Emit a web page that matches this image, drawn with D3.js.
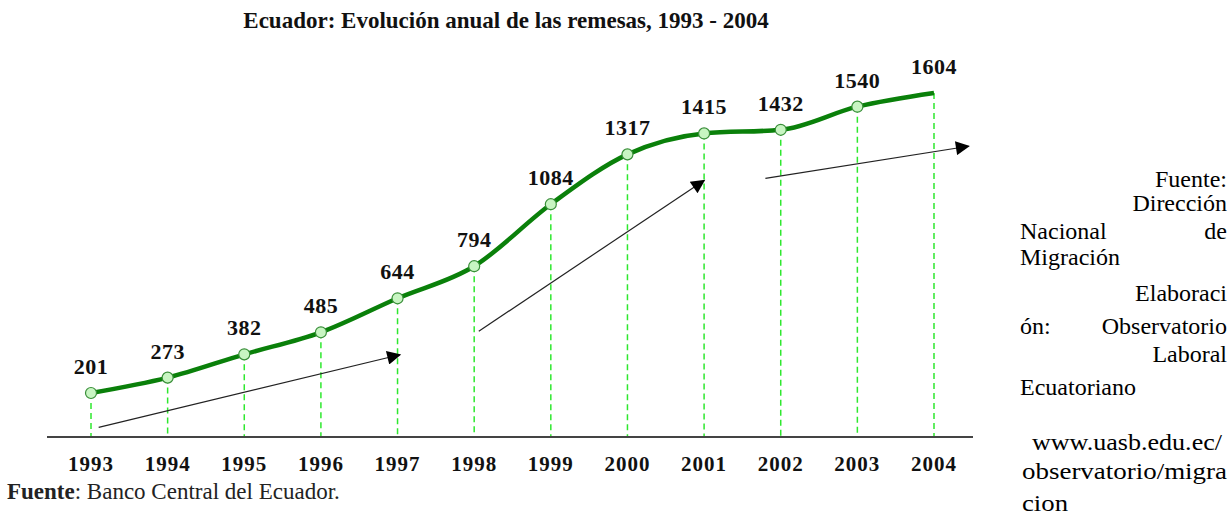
<!DOCTYPE html>
<html>
<head>
<meta charset="utf-8">
<script src="https://cdn.jsdelivr.net/npm/d3@7"></script>
<style>
  body { margin: 0; background: #fff; }
  svg { display: block; }
  text { font-family: "Liberation Serif", "Times New Roman", serif; }
</style>
</head>
<body>
<div class="graph"></div>
<script>
var width = 1230,
    height = 516;

// data
var years = [1993, 1994, 1995, 1996, 1997, 1998, 1999, 2000, 2001, 2002, 2003, 2004];
var remesas = [201, 273, 382, 485, 644, 794, 1084, 1317, 1415, 1432, 1540, 1604];

// trend arrows: [yearFrom, valueFrom, yearTo, valueTo]
var arrows = [
  [1993.1, 40, 1997.03, 380],
  [1998.06, 490, 2001.0, 1195],
  [2001.8, 1205, 2004.45, 1355]
];

var notaLines = [
  { words: ["Fuente:"], align: "end", y: 187 },
  { words: ["Dirección"], align: "end", y: 211 },
  { words: ["Nacional", "de"], align: "justify", y: 239 },
  { words: ["Migración"], align: "start", y: 265 },
  { words: ["Elaboraci"], align: "end", y: 301 },
  { words: ["ón:", "Observatorio"], align: "justify", y: 334 },
  { words: ["Laboral"], align: "end", y: 362 },
  { words: ["Ecuatoriano"], align: "start", y: 395 },
  { words: ["www.uasb.edu.ec/"], align: "start", y: 450, dx: 12, len: 190 },
  { words: ["observatorio/migra"], align: "start", y: 479, dx: 2, len: 205 },
  { words: ["cion"], align: "start", y: 511, dx: 2, len: 46 }
];

var svg = d3.select(".graph").append("svg")
    .attr("width", width)
    .attr("height", height)
    .style("font-family", "'Liberation Serif', 'Times New Roman', serif");

var x = d3.scaleLinear()
    .domain([1993, 2004])
    .range([91, 934]);

var y = d3.scaleLinear()
    .domain([0, 1604])
    .range([436, 93]);

// title
svg.append("text")
    .attr("x", 506)
    .attr("y", 28)
    .attr("text-anchor", "middle")
    .style("font-weight", "bold")
    .style("font-size", "23px")
    .style("fill", "#111")
    .text("Ecuador: Evolución anual de las remesas, 1993 - 2004");

// dashed verticals
svg.selectAll(".drop")
    .data(years)
    .enter().append("line")
      .attr("class", "drop")
      .attr("x1", function(d) { return x(d); })
      .attr("x2", function(d) { return x(d); })
      .attr("y1", function(d, i) { return y(remesas[i]); })
      .attr("y2", y(0))
      .attr("stroke", "#2ee82e")
      .attr("stroke-width", 1.5)
      .attr("stroke-dasharray", "6,4");

// baseline
svg.append("line")
    .attr("x1", 47)
    .attr("x2", 973)
    .attr("y1", y(0) + 1)
    .attr("y2", y(0) + 1)
    .attr("stroke", "#444")
    .attr("stroke-width", 2);

// arrows
svg.append("defs").append("marker")
    .attr("id", "head")
    .attr("viewBox", "0 0 10 10")
    .attr("refX", 9)
    .attr("refY", 5)
    .attr("markerUnits", "userSpaceOnUse")
    .attr("markerWidth", 18)
    .attr("markerHeight", 14)
    .attr("orient", "auto")
  .append("path")
    .attr("d", "M0,0L10,5L0,10Z")
    .attr("fill", "#000");

svg.selectAll(".arrow")
    .data(arrows)
    .enter().append("line")
      .attr("class", "arrow")
      .attr("x1", function(d) { return x(d[0]); })
      .attr("y1", function(d) { return y(d[1]); })
      .attr("x2", function(d) { return x(d[2]); })
      .attr("y2", function(d) { return y(d[3]); })
      .attr("stroke", "#222")
      .attr("stroke-width", 1.2)
      .attr("marker-end", "url(#head)");

// line
var pts = years.map(function(d, i) { return [d, remesas[i]]; });

var line = d3.line()
    .x(function(d) { return x(d[0]); })
    .y(function(d) { return y(d[1]); })
    .curve(d3.curveMonotoneX);

svg.append("path")
    .datum(pts)
    .attr("fill", "none")
    .attr("stroke", "#0a800a")
    .attr("stroke-width", 4.5)
    .attr("d", line);

// markers (last year has none)
svg.selectAll(".dot")
    .data(pts.slice(0, pts.length - 1))
    .enter().append("circle")
      .attr("class", "dot")
      .attr("cx", function(d) { return x(d[0]); })
      .attr("cy", function(d) { return y(d[1]); })
      .attr("r", 5.5)
      .attr("fill", "#c8f5c2")
      .attr("stroke", "#3a8f3a")
      .attr("stroke-width", 1.2);

// value labels
svg.selectAll(".val")
    .data(pts)
    .enter().append("text")
      .attr("class", "val")
      .attr("x", function(d) { return x(d[0]); })
      .attr("y", function(d) { return y(d[1]) - 19; })
      .attr("text-anchor", "middle")
      .style("font-weight", "bold")
      .style("font-size", "22px")
      .style("letter-spacing", "0.5px")
      .style("fill", "#111")
      .text(function(d) { return d[1]; });

// year labels
svg.selectAll(".year")
    .data(years)
    .enter().append("text")
      .attr("class", "year")
      .attr("x", function(d) { return x(d); })
      .attr("y", 471)
      .attr("text-anchor", "middle")
      .style("font-weight", "bold")
      .style("font-size", "21px")
      .style("letter-spacing", "1px")
      .style("fill", "#111")
      .text(function(d) { return d; });

// source
var src = svg.append("text")
    .attr("x", 7)
    .attr("y", 499)
    .style("font-size", "23px")
    .style("fill", "#222");
src.append("tspan").style("font-weight", "bold").text("Fuente");
src.append("tspan").text(": Banco Central del Ecuador.");

// side note, justified by hand
var left = 1020, right = 1227;
notaLines.forEach(function(l) {
  if (l.align === "justify") {
    svg.append("text").attr("x", left).attr("y", l.y)
        .style("font-size", "24px").text(l.words[0]);
    svg.append("text").attr("x", right).attr("y", l.y)
        .attr("text-anchor", "end")
        .style("font-size", "24px").text(l.words[1]);
  } else {
    var t = svg.append("text")
        .attr("x", l.align === "end" ? right : left + (l.dx || 0))
        .attr("y", l.y)
        .attr("text-anchor", l.align)
        .style("font-size", "24px")
        .text(l.words.join(" "));
    if (l.len) t.attr("textLength", l.len).attr("lengthAdjust", "spacingAndGlyphs");
  }
});
</script>
</body>
</html>
